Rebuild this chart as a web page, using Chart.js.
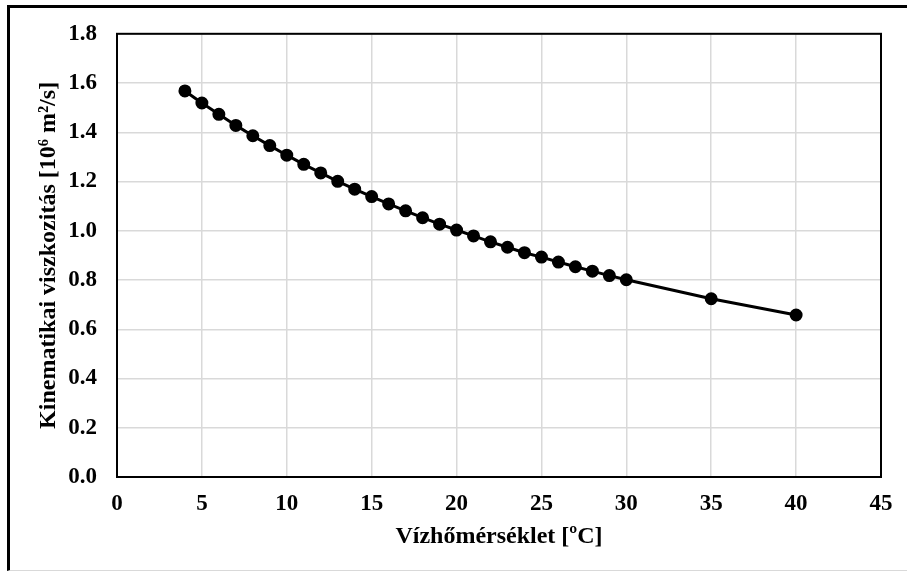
<!DOCTYPE html>
<html>
<head>
<meta charset="utf-8">
<script src="https://cdn.jsdelivr.net/npm/chart.js@4"></script>
<style>
  html, body { margin: 0; padding: 0; background: #fff; }
  #wrap { position: relative; width: 907px; height: 575px; overflow: hidden; }
  #frame { position: absolute; left: 7px; top: 5px; width: 920px; height: 566px;
           border-top: 3px solid #000; border-left: 3px solid #000; border-bottom: 1px solid #d9d9d9; box-sizing: border-box; }
  canvas { position: absolute; left: 0; top: 0; }
</style>
</head>
<body>
<div id="wrap">
  <div id="frame"></div>
  <canvas id="c" width="907" height="575"></canvas>
</div>
<script>
const temperatures = [4, 5, 6, 7, 8, 9, 10, 11, 12, 13, 14, 15, 16, 17, 18, 19, 20, 21, 22, 23, 24, 25, 26, 27, 28, 29, 30, 35, 40];
const viscosities = [1.568, 1.519, 1.473, 1.428, 1.386, 1.346, 1.307, 1.270, 1.235, 1.201, 1.169, 1.139, 1.109, 1.081, 1.053, 1.027, 1.003, 0.979, 0.955, 0.933, 0.911, 0.893, 0.873, 0.854, 0.836, 0.818, 0.801, 0.724, 0.658];
const xTitle = 'Vízhőmérséklet [ºC]';
const yTitle = 'Kinematikai viszkozitás [10⁶ m²/s]';

const points = temperatures.map((t, i) => ({ x: t, y: viscosities[i] }));
const FONT = "'Liberation Serif', 'Times New Roman', serif";

const frameBox = {
  id: 'frameBox',
  afterDraw(chart) {
    const a = chart.chartArea, ctx = chart.ctx;
    ctx.save();
    ctx.strokeStyle = '#000';
    ctx.lineWidth = 2;
    ctx.strokeRect(a.left, a.top, a.right - a.left, a.bottom - a.top);
    ctx.restore();
  }
};

new Chart(document.getElementById('c'), {
  type: 'scatter',
  data: {
    datasets: [{
      data: points,
      showLine: true,
      borderColor: '#000',
      backgroundColor: '#000',
      borderWidth: 3,
      pointRadius: 5,
      pointHoverRadius: 5,
      pointBackgroundColor: '#000',
      pointBorderColor: '#000'
    }]
  },
  options: {
    responsive: false,
    animation: false,
    layout: { padding: { left: 34, top: 32, right: 26, bottom: 24 } },
    plugins: { legend: { display: false }, tooltip: { enabled: false } },
    scales: {
      x: {
        type: 'linear', min: 0, max: 45,
        afterFit(s) { s.height = 575 - 24 - 477; },
        ticks: { stepSize: 5, padding: 13, color: '#000', font: { family: FONT, size: 23, weight: 'bold' } },
        grid: { color: '#d9d9d9', lineWidth: 1.5, drawTicks: false },
        border: { display: false },
        title: { display: true, text: xTitle, color: '#000', padding: { top: 0, bottom: 0 }, font: { family: FONT, size: 24, weight: 'bold' } }
      },
      y: {
        type: 'linear', min: 0, max: 1.8,
        afterFit(s) { s.width = 117 - 34; },
        ticks: { stepSize: 0.2, padding: 20, color: '#000', callback: v => v.toFixed(1), font: { family: FONT, size: 23, weight: 'bold' } },
        grid: { color: '#d9d9d9', lineWidth: 1.5, drawTicks: false },
        border: { display: false },
        title: { display: true, text: yTitle, color: '#000', padding: { top: 0, bottom: 0 }, font: { family: FONT, size: 24, weight: 'bold' } }
      }
    }
  },
  plugins: [frameBox]
});
</script>
</body>
</html>
